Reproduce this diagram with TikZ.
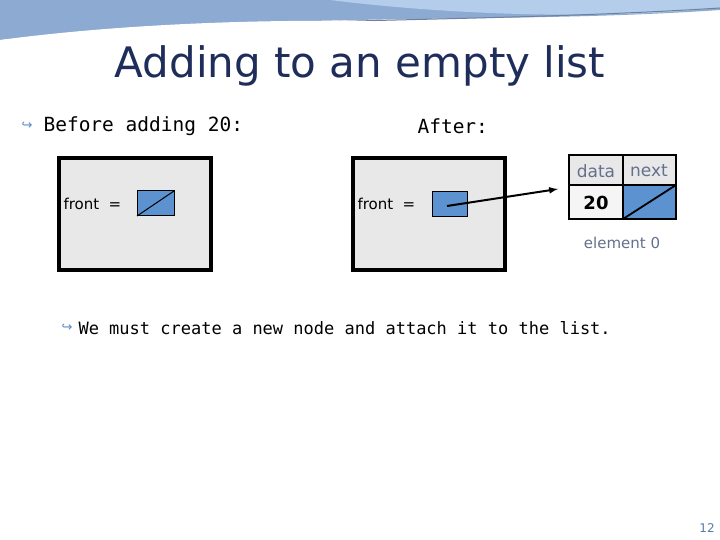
\documentclass[tikz,border=0pt]{standalone}
\usepackage{fontspec}
\setmainfont{DejaVu Sans}
\newfontfamily\monof{DejaVu Sans Mono}
\definecolor{hdrA}{RGB}{140,170,210}
\definecolor{hdrB}{RGB}{180,205,235}
\definecolor{hdrL}{RGB}{110,130,160}
\definecolor{navy}{RGB}{31,45,90}
\definecolor{ptrblue}{RGB}{91,146,207}
\definecolor{grayblue}{RGB}{100,112,140}
\definecolor{bulblue}{RGB}{90,140,200}
\definecolor{pgblue}{RGB}{90,120,170}
\begin{document}
\begin{tikzpicture}[x=1pt,y=-1pt,
  frame/.style={draw=black,line width=3.5pt,fill=gray!18},
  ptr/.style={draw=black,fill=ptrblue,line width=1pt},
  lbl/.style={font=\fontsize{15}{18}\selectfont,anchor=west},
  gb/.style={text=grayblue},
  bul/.style={text=bulblue,font=\fontsize{13}{14}\selectfont}]
\useasboundingbox (0,0) rectangle (720,540);
\fill[white] (0,0) rectangle (720,540);
% decorative header
\fill[hdrA] (0,0) -- (720,0) -- (720,10) .. controls (500,25) and (300,10) .. (0,40) -- cycle;
\fill[hdrB] (330,0) -- (720,0) -- (720,8) .. controls (600,20) and (450,15) .. (330,0) -- cycle;
\draw[hdrL,line width=1pt] (0,45) .. controls (200,15) and (450,25) .. (720,8);
\fill[white] (0,40) .. controls (150,20) and (350,15) .. (520,28) .. controls (350,28) and (150,30) .. (0,48) -- cycle;
% title
\node[text=navy,font=\fontsize{42}{48}\selectfont] (title) at (360,66) {Adding to an empty list};
\node[bul] (b1) at (27,126) {\symbol{"21AA}};
\node[lbl,font=\monof\fontsize{19.5}{22}\selectfont] (t1) at (40,126) {Before adding 20:};
\node[lbl,font=\monof\fontsize{19.5}{22}\selectfont] (t2) at (414,126) {After:};
% left frame
\draw[frame] (59,158) rectangle (211,270);
\node[lbl] (f1) at (60,204) {front\ \ =};
\draw[ptr] (137,191) rectangle (174,216);
\draw[line width=1pt] (137,216) -- (174,191);
% right frame
\draw[frame] (353,158) rectangle (505,270);
\node[lbl] (f2) at (354,204) {front\ \ =};
\draw[ptr] (432,192) rectangle (467,217);
\coordinate (src) at (447,206);
% list node
\fill[gray!18] (569,155) rectangle (676,185);
\fill[gray!8] (569,185) rectangle (623,219);
\fill[ptrblue] (623,185) rectangle (676,219);
\draw[line width=2.5pt] (569,155) rectangle (676,219);
\draw[line width=1.8pt] (569,185) -- (676,185) (623,155) -- (623,219);
\draw[line width=1.8pt] (623,219) -- (676,185);
\node[gb,font=\fontsize{17}{20}\selectfont] (data) at (596,171) {data};
\node[gb,font=\fontsize{17}{20}\selectfont] (next) at (649,171) {next};
\node[font=\bfseries\fontsize{18}{20}\selectfont] (val) at (596,203) {20};
\coordinate (tgt) at (558,189);
\draw[line width=2pt,-latex] (src) -- (tgt);
\node[gb,font=\fontsize{15}{18}\selectfont] (el) at (622,243) {element 0};
\node[bul] (b2) at (67,328) {\symbol{"21AA}};
\node[lbl,font=\monof\fontsize{17}{20}\selectfont] (t3) at (75,328) {We must create a new node and attach it to the list.};
\node[text=pgblue,font=\fontsize{12}{14}\selectfont] (pg) at (707,528) {12};
\end{tikzpicture}
\end{document}
